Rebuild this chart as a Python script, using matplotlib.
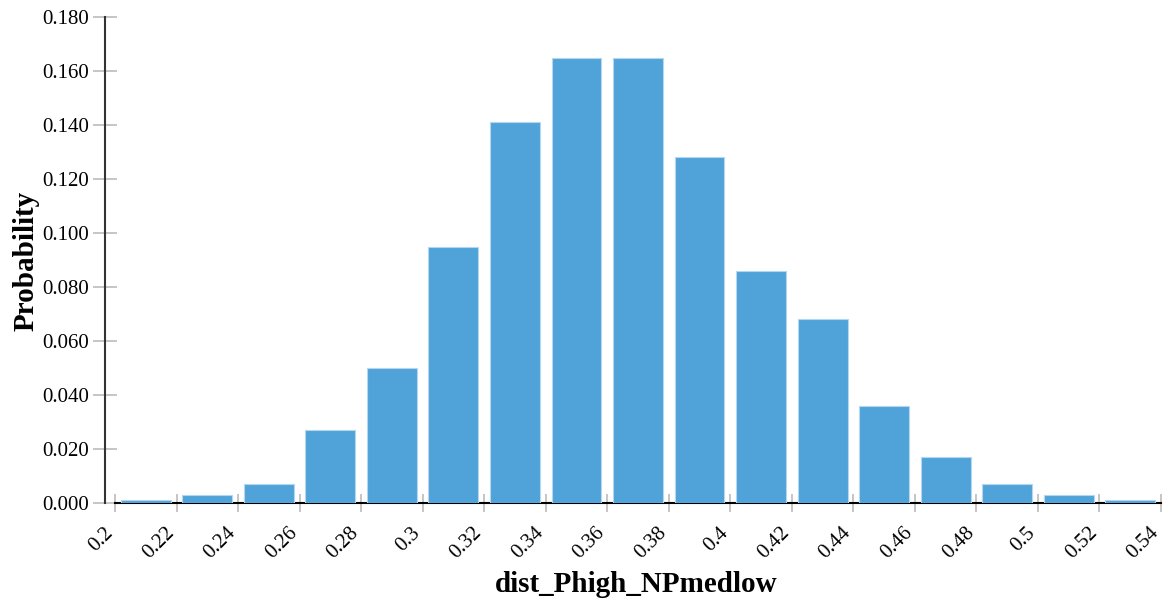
import numpy as np
import matplotlib.pyplot as plt
from matplotlib.transforms import ScaledTranslation

# histogram bins and probabilities
bin_edges = [0.2, 0.22, 0.24, 0.26, 0.28, 0.3, 0.32, 0.34, 0.36, 0.38,
             0.4, 0.42, 0.44, 0.46, 0.48, 0.5, 0.52, 0.54]
probability = [0.001, 0.003, 0.007, 0.027, 0.050, 0.095, 0.141, 0.165, 0.165,
               0.128, 0.086, 0.068, 0.036, 0.017, 0.007, 0.003, 0.001]
tick_labels = ["0.2", "0.22", "0.24", "0.26", "0.28", "0.3", "0.32", "0.34", "0.36",
               "0.38", "0.4", "0.42", "0.44", "0.46", "0.48", "0.5", "0.52", "0.54"]
y_ticks = [0.0, 0.02, 0.04, 0.06, 0.08, 0.10, 0.12, 0.14, 0.16, 0.18]

plt.rcParams["font.family"] = ["Liberation Serif", "DejaVu Serif"]

W, H = 1166, 604
fig = plt.figure(figsize=(W / 100, H / 100), dpi=100)
ax = fig.add_axes([105 / W, 1 - 503 / H, (1161 - 105) / W, (503 - 17) / H])

edges = np.array(bin_edges)
centers = (edges[:-1] + edges[1:]) / 2
width = (edges[1] - edges[0]) * 0.81
ax.bar(centers, probability, width=width, color="#4fa3d9",
       edgecolor="#b4d6ef", linewidth=0.8, zorder=3)

ax.set_xlim(0.2 - 0.02 * 10 / 61.5, 0.54)
ax.set_ylim(0, 0.18)

for s in ["top", "right"]:
    ax.spines[s].set_visible(False)
ax.spines["left"].set_color("#333333")
ax.spines["left"].set_linewidth(1.5)
ax.spines["bottom"].set_color("black")
ax.spines["bottom"].set_linewidth(1.5)
ax.spines["bottom"].set_bounds(0.2, 0.54)
ax.spines["bottom"].set_zorder(2)

ax.set_yticks(y_ticks)
ax.set_yticklabels([f"{v:.3f}" for v in y_ticks])
ax.set_xticks(edges)
ax.set_xticklabels(tick_labels, rotation=45, ha="right", va="center",
                   rotation_mode="anchor")

ax.tick_params(axis="y", direction="inout", length=17, width=1.2,
               color="#bbbbbb", labelsize=15, pad=3)
ax.tick_params(axis="x", direction="inout", length=13, width=1.2,
               color="#bbbbbb", labelsize=15, pad=13)

# nudge rotated x labels so their ends sit under the ticks
shift = ScaledTranslation(-5 / 100, 0, fig.dpi_scale_trans)
for lbl in ax.get_xticklabels():
    lbl.set_transform(lbl.get_transform() + shift)

# axis titles placed in figure coordinates
fig.text(636 / W, 1 - 592 / H, "dist_Phigh_NPmedlow", fontsize=21,
         fontweight="bold", ha="center", va="baseline")
fig.text(26 / W, 1 - 261 / H, "Probability", fontsize=21, fontweight="bold",
         rotation=90, ha="center", va="center")

fig.savefig("out.png", dpi=100)
